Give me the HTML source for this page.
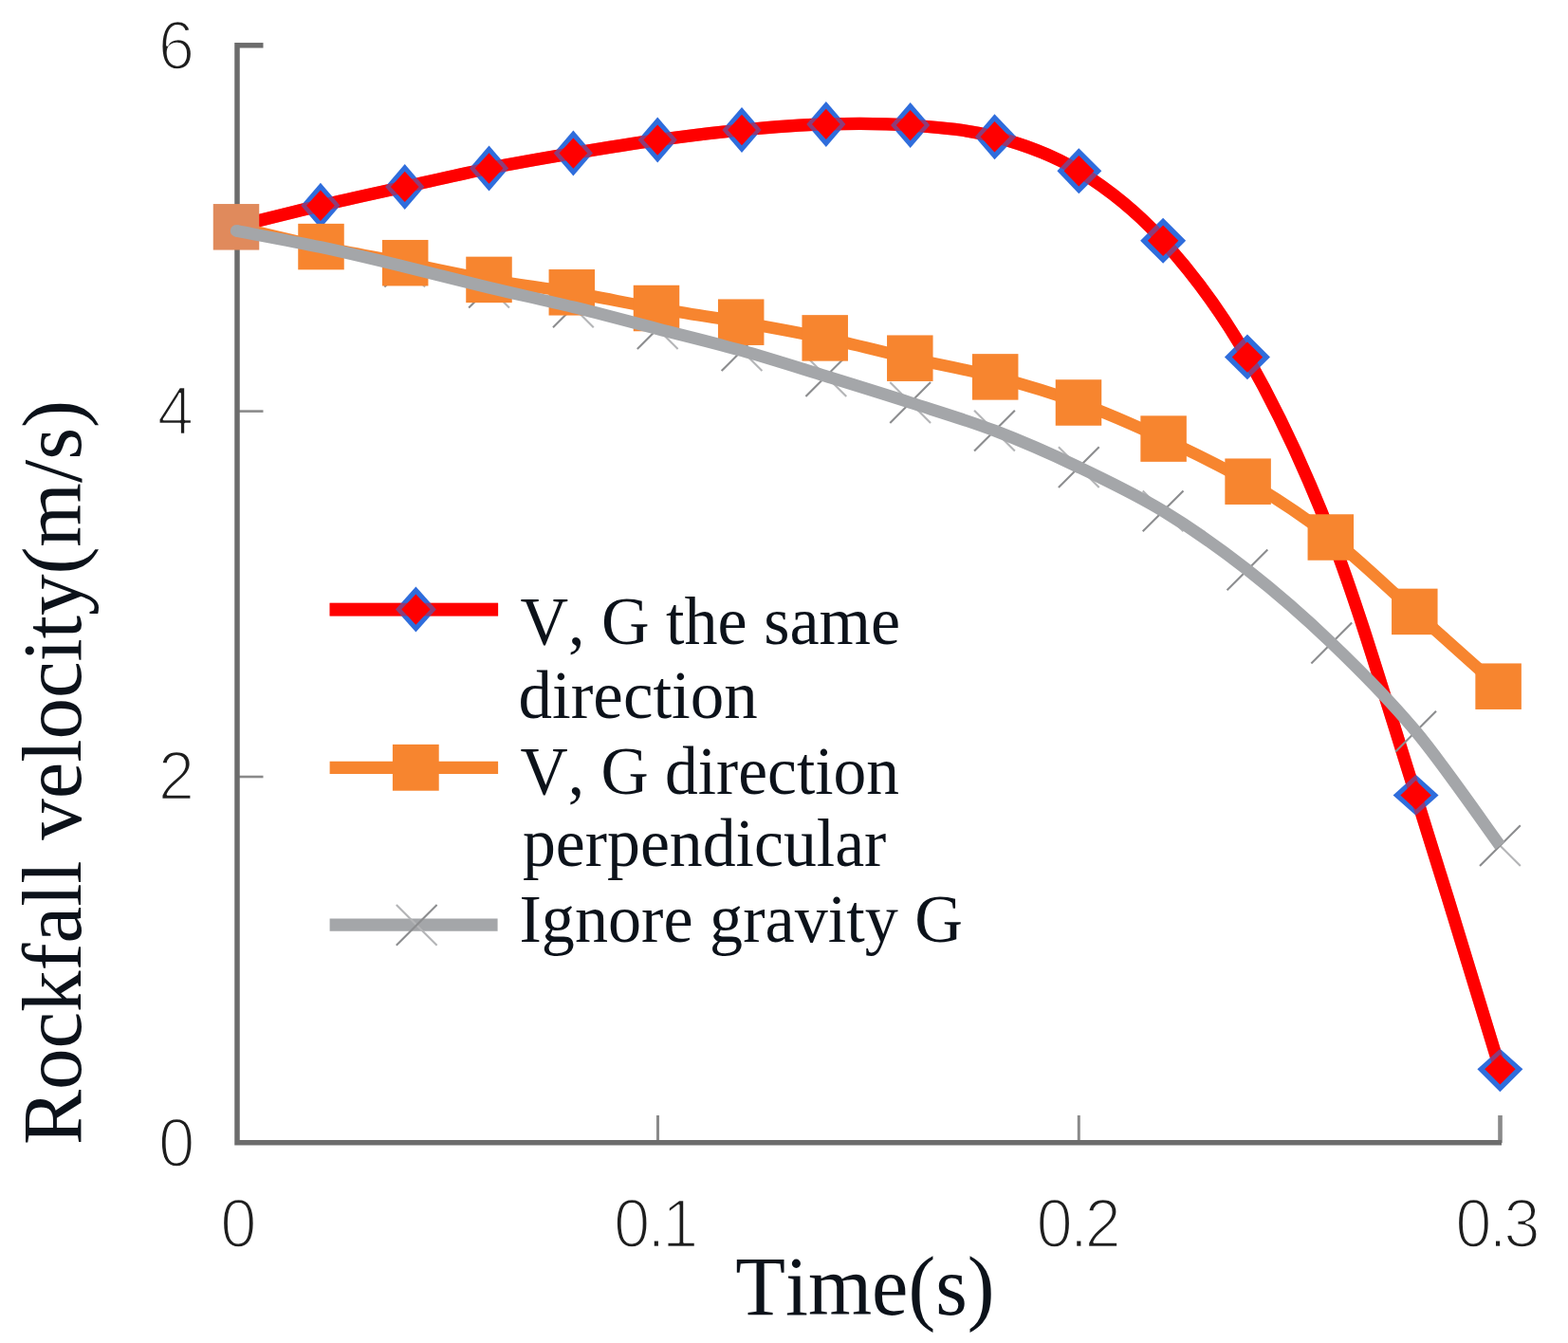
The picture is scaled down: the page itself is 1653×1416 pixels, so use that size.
<!DOCTYPE html>
<html lang="en"><head><meta charset="utf-8"><title>Rockfall velocity vs. time</title>
<style>
html,body{margin:0;padding:0;background:#fff;}
body{width:1653px;height:1416px;overflow:hidden;}
svg{display:block;}
.tick{font-family:"Liberation Sans",sans-serif;font-size:72.6px;fill:#1e1e1e;stroke:#fff;stroke-width:2.5px;stroke-linejoin:round;letter-spacing:-3.4px;}
.ser{font-family:"Liberation Serif",serif;fill:#0c121a;font-kerning:none;}
.leg{font-size:71px;}
.ttl{font-size:89px;}
</style></head><body>
<svg width="1653" height="1416" viewBox="0 0 1653 1416">
<rect x="0" y="0" width="1653" height="1416" fill="#ffffff"/>
<g id="axes">
<line x1="250" y1="47.8" x2="277.5" y2="47.8" stroke="#6c6c6c" stroke-width="5.5"/>
<line x1="250" y1="433.6" x2="277.5" y2="433.6" stroke="#8a8a8a" stroke-width="2.6"/>
<line x1="250" y1="819.0" x2="277.5" y2="819.0" stroke="#8a8a8a" stroke-width="2.6"/>
<line x1="693.5" y1="1176" x2="693.5" y2="1205" stroke="#8a8a8a" stroke-width="3"/>
<line x1="1137.3" y1="1176" x2="1137.3" y2="1205" stroke="#8a8a8a" stroke-width="3"/>
<line x1="1581.5" y1="1176" x2="1581.5" y2="1205" stroke="#8a8a8a" stroke-width="4.6"/>
<path d="M250,45 L250,1204.8 L1583,1204.8" fill="none" stroke="#6c6c6c" stroke-width="5.5" stroke-linejoin="miter"/>
</g>
<g id="series-red">
<path d="M249.10,238.50 C263.90,234.87 308.31,223.63 337.92,216.70 C367.53,209.77 397.13,203.43 426.74,196.90 C456.35,190.37 485.95,183.38 515.56,177.50 C545.17,171.62 574.77,166.58 604.38,161.60 C633.99,156.62 663.59,151.70 693.20,147.60 C722.81,143.50 752.41,139.78 782.02,137.00 C811.63,134.22 841.23,131.72 870.84,130.90 C900.45,130.08 930.05,129.88 959.66,132.10 C989.27,134.32 1018.87,136.18 1048.48,144.20 C1078.09,152.22 1107.69,161.93 1137.30,180.20 C1166.91,198.47 1196.51,221.07 1226.12,253.80 C1255.73,286.53 1285.33,324.48 1314.94,376.60 C1344.55,428.72 1374.15,489.53 1403.76,566.50 C1433.37,643.47 1462.97,744.95 1492.58,838.40 C1522.19,931.85 1566.60,1079.07 1581.40,1127.20" fill="none" stroke="#ff0000" stroke-width="13.2" stroke-linecap="round" stroke-linejoin="round"/>
<path d="M337.92,192.70 L358.52,216.70 L337.92,240.70 L317.32,216.70 Z" fill="#2f6ddc"/><path d="M337.92,200.50 L352.76,216.70 L337.92,232.90 L323.08,216.70 Z" fill="#ff0000"/>
<path d="M426.74,172.90 L447.34,196.90 L426.74,220.90 L406.14,196.90 Z" fill="#2f6ddc"/><path d="M426.74,180.70 L441.58,196.90 L426.74,213.10 L411.90,196.90 Z" fill="#ff0000"/>
<path d="M515.56,153.50 L536.16,177.50 L515.56,201.50 L494.96,177.50 Z" fill="#2f6ddc"/><path d="M515.56,161.30 L530.40,177.50 L515.56,193.70 L500.72,177.50 Z" fill="#ff0000"/>
<path d="M604.38,137.60 L624.98,161.60 L604.38,185.60 L583.78,161.60 Z" fill="#2f6ddc"/><path d="M604.38,145.40 L619.22,161.60 L604.38,177.80 L589.54,161.60 Z" fill="#ff0000"/>
<path d="M693.20,123.60 L713.80,147.60 L693.20,171.60 L672.60,147.60 Z" fill="#2f6ddc"/><path d="M693.20,131.40 L708.04,147.60 L693.20,163.80 L678.36,147.60 Z" fill="#ff0000"/>
<path d="M782.02,113.00 L802.62,137.00 L782.02,161.00 L761.42,137.00 Z" fill="#2f6ddc"/><path d="M782.02,120.80 L796.86,137.00 L782.02,153.20 L767.18,137.00 Z" fill="#ff0000"/>
<path d="M870.84,106.90 L891.44,130.90 L870.84,154.90 L850.24,130.90 Z" fill="#2f6ddc"/><path d="M870.84,114.70 L885.68,130.90 L870.84,147.10 L856.00,130.90 Z" fill="#ff0000"/>
<path d="M959.66,108.10 L980.26,132.10 L959.66,156.10 L939.06,132.10 Z" fill="#2f6ddc"/><path d="M959.66,115.90 L974.50,132.10 L959.66,148.30 L944.82,132.10 Z" fill="#ff0000"/>
<path d="M1048.48,120.20 L1071.36,144.20 L1048.48,168.20 L1027.88,144.20 Z" fill="#2f6ddc"/><path d="M1048.48,128.00 L1064.23,144.20 L1048.48,160.40 L1033.64,144.20 Z" fill="#ff0000"/>
<path d="M1137.30,156.20 L1161.30,180.20 L1137.30,204.20 L1114.42,180.20 Z" fill="#2f6ddc"/><path d="M1137.30,164.00 L1153.50,180.20 L1137.30,196.40 L1121.55,180.20 Z" fill="#ff0000"/>
<path d="M1226.12,229.80 L1250.12,253.80 L1226.12,277.80 L1202.12,253.80 Z" fill="#2f6ddc"/><path d="M1226.12,237.60 L1242.32,253.80 L1226.12,270.00 L1209.92,253.80 Z" fill="#ff0000"/>
<path d="M1314.94,352.60 L1338.94,376.60 L1314.94,400.35 L1290.94,376.60 Z" fill="#2f6ddc"/><path d="M1314.94,360.40 L1331.14,376.60 L1314.94,392.70 L1298.74,376.60 Z" fill="#ff0000"/>
<path d="M1492.58,816.70 L1516.58,838.40 L1492.58,859.80 L1468.58,838.40 Z" fill="#2f6ddc"/><path d="M1492.58,823.12 L1508.78,838.40 L1492.58,853.56 L1476.38,838.40 Z" fill="#ff0000"/>
<path d="M1581.40,1105.80 L1605.40,1127.20 L1581.40,1151.20 L1557.40,1127.20 Z" fill="#2f6ddc"/><path d="M1581.40,1112.04 L1597.60,1127.20 L1581.40,1143.40 L1565.20,1127.20 Z" fill="#ff0000"/>
<path d="M249.10,238.50 C263.90,234.87 308.31,223.63 337.92,216.70 C367.53,209.77 397.13,203.43 426.74,196.90 C456.35,190.37 485.95,183.38 515.56,177.50 C545.17,171.62 574.77,166.58 604.38,161.60 C633.99,156.62 663.59,151.70 693.20,147.60 C722.81,143.50 752.41,139.78 782.02,137.00 C811.63,134.22 841.23,131.72 870.84,130.90 C900.45,130.08 930.05,129.88 959.66,132.10 C989.27,134.32 1018.87,136.18 1048.48,144.20 C1078.09,152.22 1107.69,161.93 1137.30,180.20 C1166.91,198.47 1196.51,221.07 1226.12,253.80 C1255.73,286.53 1285.33,324.48 1314.94,376.60 C1344.55,428.72 1374.15,489.53 1403.76,566.50 C1433.37,643.47 1462.97,744.95 1492.58,838.40 C1522.19,931.85 1566.60,1079.07 1581.40,1127.20" fill="none" stroke="#ff0000" stroke-opacity="0.45" stroke-width="13.2" stroke-linecap="round" stroke-linejoin="round"/>
</g>
<g id="series-grey-markers">
<path d="M229.10,219.30 L269.10,259.30" stroke="#b4b5b7" stroke-width="2.1" fill="none"/><path d="M229.10,259.30 L269.10,219.30" stroke="#8c8d8f" stroke-width="2.1" fill="none"/>
<path d="M316.52,239.20 L359.32,282.00" stroke="#b4b5b7" stroke-width="2.1" fill="none"/><path d="M316.52,282.00 L359.32,239.20" stroke="#8c8d8f" stroke-width="2.1" fill="none"/>
<path d="M405.34,259.80 L448.14,302.60" stroke="#b4b5b7" stroke-width="2.1" fill="none"/><path d="M405.34,302.60 L448.14,259.80" stroke="#8c8d8f" stroke-width="2.1" fill="none"/>
<path d="M494.16,281.80 L536.96,324.60" stroke="#b4b5b7" stroke-width="2.1" fill="none"/><path d="M494.16,324.60 L536.96,281.80" stroke="#8c8d8f" stroke-width="2.1" fill="none"/>
<path d="M582.98,302.40 L625.78,345.20" stroke="#b4b5b7" stroke-width="2.1" fill="none"/><path d="M582.98,345.20 L625.78,302.40" stroke="#8c8d8f" stroke-width="2.1" fill="none"/>
<path d="M671.80,325.30 L714.60,368.10" stroke="#b4b5b7" stroke-width="2.1" fill="none"/><path d="M671.80,368.10 L714.60,325.30" stroke="#8c8d8f" stroke-width="2.1" fill="none"/>
<path d="M760.62,348.30 L803.42,391.10" stroke="#b4b5b7" stroke-width="2.1" fill="none"/><path d="M760.62,391.10 L803.42,348.30" stroke="#8c8d8f" stroke-width="2.1" fill="none"/>
<path d="M849.44,375.30 L892.24,418.10" stroke="#b4b5b7" stroke-width="2.1" fill="none"/><path d="M849.44,418.10 L892.24,375.30" stroke="#8c8d8f" stroke-width="2.1" fill="none"/>
<path d="M938.26,403.10 L981.06,445.90" stroke="#b4b5b7" stroke-width="2.1" fill="none"/><path d="M938.26,445.90 L981.06,403.10" stroke="#8c8d8f" stroke-width="2.1" fill="none"/>
<path d="M1027.08,432.70 L1069.88,475.50" stroke="#b4b5b7" stroke-width="2.1" fill="none"/><path d="M1027.08,475.50 L1069.88,432.70" stroke="#8c8d8f" stroke-width="2.1" fill="none"/>
<path d="M1115.90,471.20 L1158.70,514.00" stroke="#b4b5b7" stroke-width="2.1" fill="none"/><path d="M1115.90,514.00 L1158.70,471.20" stroke="#8c8d8f" stroke-width="2.1" fill="none"/>
<path d="M1204.72,517.40 L1247.52,560.20" stroke="#b4b5b7" stroke-width="2.1" fill="none"/><path d="M1204.72,560.20 L1247.52,517.40" stroke="#8c8d8f" stroke-width="2.1" fill="none"/>
<path d="M1293.54,579.40 L1336.34,622.20" stroke="#b4b5b7" stroke-width="2.1" fill="none"/><path d="M1293.54,622.20 L1336.34,579.40" stroke="#8c8d8f" stroke-width="2.1" fill="none"/>
<path d="M1382.36,656.60 L1425.16,699.40" stroke="#b4b5b7" stroke-width="2.1" fill="none"/><path d="M1382.36,699.40 L1425.16,656.60" stroke="#8c8d8f" stroke-width="2.1" fill="none"/>
<path d="M1471.18,749.80 L1513.98,792.60" stroke="#b4b5b7" stroke-width="2.1" fill="none"/><path d="M1471.18,792.60 L1513.98,749.80" stroke="#8c8d8f" stroke-width="2.1" fill="none"/>
<path d="M1560.00,870.30 L1602.80,913.10" stroke="#b4b5b7" stroke-width="2.1" fill="none"/><path d="M1560.00,913.10 L1602.80,870.30" stroke="#8c8d8f" stroke-width="2.1" fill="none"/>
</g>
<g id="series-orange">
<path d="M249.00,239.30 C263.92,242.77 308.80,253.78 338.50,260.10 C368.20,266.42 397.70,271.40 427.20,277.20 C456.70,283.00 486.23,289.72 515.50,294.90 C544.77,300.08 573.38,303.28 602.80,308.30 C632.22,313.32 662.27,319.77 692.00,325.00 C721.73,330.23 751.58,334.47 781.20,339.70 C810.82,344.93 840.02,350.07 869.70,356.40 C899.38,362.73 929.38,370.87 959.30,377.70 C989.22,384.53 1019.58,389.60 1049.20,397.40 C1078.82,405.20 1107.43,413.63 1137.00,424.50 C1166.57,435.37 1196.83,448.73 1226.60,462.60 C1256.37,476.47 1286.23,490.38 1315.60,507.70 C1344.97,525.02 1373.52,543.63 1402.80,566.50 C1432.08,589.37 1461.83,618.70 1491.30,644.90 C1520.77,671.10 1564.88,710.57 1579.60,723.70" fill="none" stroke="#f7852f" stroke-width="12.6" stroke-linecap="round" stroke-linejoin="round"/>
<rect x="224.75" y="215.05" width="48.50" height="48.50" fill="#e08a5c"/>
<rect x="314.25" y="235.85" width="48.50" height="48.50" fill="#f7852f"/>
<rect x="402.95" y="252.95" width="48.50" height="48.50" fill="#f7852f"/>
<rect x="491.25" y="270.65" width="48.50" height="48.50" fill="#f7852f"/>
<rect x="578.55" y="284.05" width="48.50" height="48.50" fill="#f7852f"/>
<rect x="667.75" y="300.75" width="48.50" height="48.50" fill="#f7852f"/>
<rect x="756.95" y="315.45" width="48.50" height="48.50" fill="#f7852f"/>
<rect x="845.45" y="332.15" width="48.50" height="48.50" fill="#f7852f"/>
<rect x="935.05" y="353.45" width="48.50" height="48.50" fill="#f7852f"/>
<rect x="1024.95" y="373.15" width="48.50" height="48.50" fill="#f7852f"/>
<rect x="1112.75" y="400.25" width="48.50" height="48.50" fill="#f7852f"/>
<rect x="1202.35" y="438.35" width="48.50" height="48.50" fill="#f7852f"/>
<rect x="1291.35" y="483.45" width="48.50" height="48.50" fill="#f7852f"/>
<rect x="1378.55" y="542.25" width="48.50" height="48.50" fill="#f7852f"/>
<rect x="1467.05" y="620.65" width="48.50" height="48.50" fill="#f7852f"/>
<rect x="1555.35" y="699.45" width="48.50" height="48.50" fill="#f7852f"/>
</g>
<g id="series-grey">
<circle cx="249.10" cy="243.40" r="6.3" fill="#a4a6a9"/>
<path d="M249.10,243.40 C263.90,246.27 308.31,254.30 337.92,260.60 C367.53,266.90 397.13,274.10 426.74,281.20 C456.35,288.30 485.95,296.10 515.56,303.20 C545.17,310.30 574.77,316.55 604.38,323.80 C633.99,331.05 663.59,339.05 693.20,346.70 C722.81,354.35 752.41,361.37 782.02,369.70 C811.63,378.03 841.23,387.57 870.84,396.70 C900.45,405.83 930.05,414.93 959.66,424.50 C989.27,434.07 1018.87,442.75 1048.48,454.10 C1078.09,465.45 1107.69,478.48 1137.30,492.60 C1166.91,506.72 1196.51,520.77 1226.12,538.80 C1255.73,556.83 1285.33,577.60 1314.94,600.80 C1344.55,624.00 1374.15,649.60 1403.76,678.00 C1433.37,706.40 1462.97,735.58 1492.58,771.20 C1522.19,806.82 1566.60,871.62 1581.40,891.70" fill="none" stroke="#a4a6a9" stroke-width="12.8" stroke-linecap="butt" stroke-linejoin="round"/>
</g>
<g id="legend">
<line x1="347.6" y1="642.6" x2="525.1" y2="642.6" stroke="#ff0000" stroke-width="13.6"/>
<path d="M438.40,618.60 L459.80,642.60 L438.40,666.60 L417.00,642.60 Z" fill="#2f6ddc"/><path d="M438.40,626.40 L453.56,642.60 L438.40,658.80 L423.24,642.60 Z" fill="#ff0000"/>
<line x1="347.6" y1="642.6" x2="525.1" y2="642.6" stroke="#ff0000" stroke-opacity="0.45" stroke-width="13.6"/>
<line x1="347.6" y1="809.3" x2="525.1" y2="809.3" stroke="#f7852f" stroke-width="13.2"/>
<rect x="413.90" y="784.90" width="48.80" height="48.80" fill="#f7852f"/>
<line x1="347.6" y1="975.2" x2="524.6" y2="975.2" stroke="#a4a6a9" stroke-width="13.2"/>
<path d="M417.80,953.90 L460.60,996.70" stroke="#b4b5b7" stroke-width="2.1" fill="none"/><path d="M417.80,996.70 L460.60,953.90" stroke="#8c8d8f" stroke-width="2.1" fill="none"/>
<text id="l1" class="ser leg" x="548.5" y="678.6" textLength="400.5" lengthAdjust="spacingAndGlyphs">V, G the same</text>
<text id="l2" class="ser leg" x="546.5" y="757.3">direction</text>
<text id="l3" class="ser leg" x="548.5" y="836.5" textLength="399.5" lengthAdjust="spacingAndGlyphs">V, G direction</text>
<text id="l4" class="ser leg" x="551" y="913" textLength="383.3" lengthAdjust="spacingAndGlyphs">perpendicular</text>
<text id="l5" class="ser leg" x="547.5" y="992.6" textLength="467.5" lengthAdjust="spacingAndGlyphs">Ignore gravity G</text>
</g>
<g id="ticklabels">
<text class="tick" id="ty6" transform="translate(184.4,73.2) scale(0.950,1)" text-anchor="middle">6</text>
<text class="tick" id="ty4" transform="translate(183.3,458.1) scale(0.950,1)" text-anchor="middle">4</text>
<text class="tick" id="ty2" transform="translate(184.4,842.7) scale(0.950,1)" text-anchor="middle">2</text>
<text class="tick" id="ty0" transform="translate(184.6,1230.0) scale(0.950,1)" text-anchor="middle">0</text>
<text class="tick" id="tx0" transform="translate(249.8,1315.2) scale(0.950,1)" text-anchor="middle">0</text>
<text class="tick" id="tx1" transform="translate(690.1,1315.2) scale(0.950,1)" text-anchor="middle">0.1</text>
<text class="tick" id="tx2" transform="translate(1135.6,1315.2) scale(0.950,1)" text-anchor="middle">0.2</text>
<text class="tick" id="tx3" transform="translate(1577.4,1315.2) scale(0.950,1)" text-anchor="middle">0.3</text>
</g>
<g id="titles">
<text id="xt" class="ser ttl" x="775.3" y="1386.4" textLength="273.2" lengthAdjust="spacingAndGlyphs">Time(s)</text>
<text id="yt" class="ser ttl" transform="translate(85.3,1207) rotate(-90)" x="0" y="0" textLength="785" lengthAdjust="spacingAndGlyphs">Rockfall velocity(m/s)</text>
</g>
</svg>
</body></html>
